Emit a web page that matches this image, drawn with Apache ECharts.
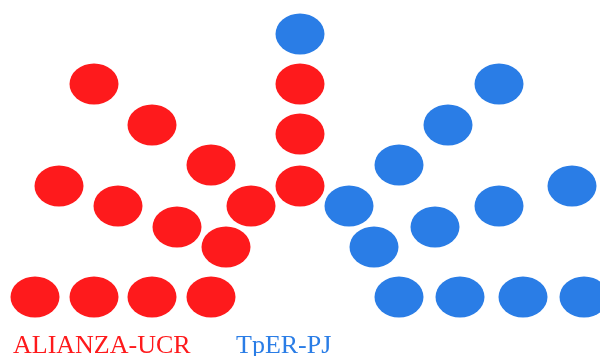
<!DOCTYPE html>
<html>
<head>
<meta charset="utf-8">
<script src="https://cdn.jsdelivr.net/npm/echarts@6/dist/echarts.min.js"></script>
<style>
  html, body { margin: 0; padding: 0; background: #ffffff; }
  #chart { width: 600px; height: 356px; }
</style>
</head>
<body>
<div id="chart"></div>
<script>
// Party names shown under the seat diagram
const parties = ['ALIANZA-UCR', 'TpER-PJ'];
const partyColors = ['#fe1a1c', '#2a7de6'];

// Seat positions (layout units: x across, y down from the top)
const ucrSeatX = [35, 94, 152, 211, 94, 152, 211, 59, 118, 177, 251, 226, 300, 300, 300];
const ucrSeatY = [297, 297, 297, 297, 84, 125, 165, 186, 206, 227, 206, 247, 84, 134, 186];

const pjSeatX = [300, 349, 374, 399, 448, 499, 435, 499, 572, 399, 460, 523, 584];
const pjSeatY = [34, 206, 247, 165, 125, 84, 227, 206, 186, 297, 297, 297, 297];

function seats(xs, ys) {
  return xs.map((x, i) => [x, ys[i]]);
}

const chart = echarts.init(document.getElementById('chart'), null, { renderer: 'canvas' });

chart.setOption({
  backgroundColor: '#ffffff',
  animation: false,
  grid: { left: 0, right: 0, top: 0, bottom: 0 },
  xAxis: { type: 'value', min: 0, max: 600, show: false },
  yAxis: { type: 'value', min: 0, max: 356, inverse: true, show: false },
  graphic: [
    {
      type: 'text', left: 13, top: 333,
      style: { text: parties[0], fill: partyColors[0], font: '26px "Liberation Serif", "Times New Roman", serif' }
    },
    {
      type: 'text', left: 236, top: 333,
      style: { text: parties[1], fill: partyColors[1], font: '26px "Liberation Serif", "Times New Roman", serif' }
    }
  ],
  series: [
    {
      name: parties[0], type: 'scatter', symbol: 'circle', symbolSize: [49, 41],
      itemStyle: { color: partyColors[0], opacity: 1 },
      data: seats(ucrSeatX, ucrSeatY)
    },
    {
      name: parties[1], type: 'scatter', symbol: 'circle', symbolSize: [49, 41],
      itemStyle: { color: partyColors[1], opacity: 1 },
      data: seats(pjSeatX, pjSeatY)
    }
  ]
});
</script>
</body>
</html>
